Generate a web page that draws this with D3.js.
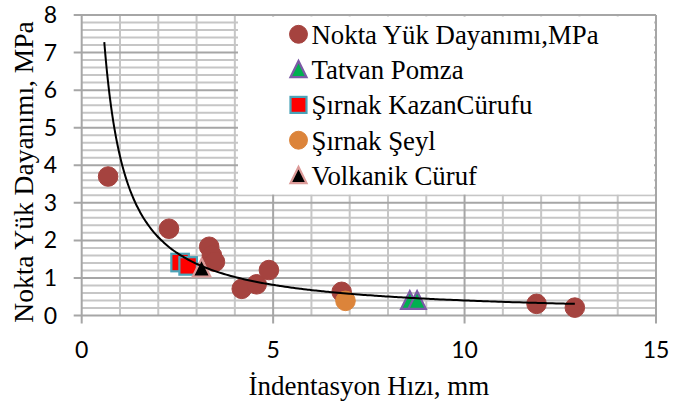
<!DOCTYPE html>
<html><head><meta charset="utf-8">
<script src="https://cdn.jsdelivr.net/npm/d3@7"></script>
<style>body{margin:0;background:#fff;overflow:hidden}</style>
</head><body><svg id="c" width="688" height="405"></svg>
<script>
// ---- data ----
const xTicks = [0, 5, 10, 15];
const yTicks = [0, 1, 2, 3, 4, 5, 6, 7, 8];
const noktaX = [0.69, 2.28, 3.33, 3.40, 3.48, 4.18, 4.57, 4.89, 6.79, 11.88, 12.88];
const noktaY = [3.70, 2.31, 1.83, 1.60, 1.43, 0.71, 0.83, 1.21, 0.63, 0.31, 0.21];
const tatvanX = [8.57, 8.76];
const tatvanY = [0.40, 0.40];
const kazanX = [2.57, 2.78];
const kazanY = [1.41, 1.32];
const seylX = [6.89];
const seylY = [0.39];
const volkX = [3.13];
const volkY = [1.26];
const trendCoef = [4.24, -1.024];   // power trendline y = a * x^b
const trendRange = [0.59, 12.88];
const seriesNames = ["Nokta Yük Dayanımı,MPa", "Tatvan Pomza", "Şırnak KazanCürufu", "Şırnak Şeyl", "Volkanik Cüruf"];
const xTitle = "İndentasyon Hızı, mm";
const yTitle = "Nokta Yük Dayanımı, MPa";

// ---- layout ----
const svg = d3.select("#c");
const x = d3.scaleLinear().domain([0, 15]).range([81.7, 656]);
const y = d3.scaleLinear().domain([0, 8]).range([315.5, 15]);
const serif = "'Liberation Serif','Times New Roman',serif";
const sans = "Lato,'Open Sans',sans-serif";

const styles = [
  {shape: "circle", fill: "#a5433f", stroke: "#a5433f"},
  {shape: "triangle", fill: "#00b050", stroke: "#7b5aa6"},
  {shape: "square", fill: "#ff0000", stroke: "#4aa3b8"},
  {shape: "circle", fill: "#dc843a", stroke: "#dc843a"},
  {shape: "triangle", fill: "#000000", stroke: "#dc9a98"}
];

const g = svg.append("g");

// grid: minor
const minorX = d3.range(0, 16).filter(v => v % 5 !== 0);
const minorY = d3.range(0, 40).map(v => v / 5).filter(v => Math.abs(v - Math.round(v)) > 1e-6);
g.selectAll(".mx").data(minorX).enter().append("line")
  .attr("x1", d => x(d)).attr("x2", d => x(d)).attr("y1", y(8)).attr("y2", y(0))
  .attr("stroke", "#c6c6c6").attr("stroke-width", 2);
g.selectAll(".my").data(minorY).enter().append("line")
  .attr("x1", x(0)).attr("x2", x(15)).attr("y1", d => y(d)).attr("y2", d => y(d))
  .attr("stroke", "#c6c6c6").attr("stroke-width", 2);
// grid: major
g.selectAll(".My").data(yTicks).enter().append("line")
  .attr("x1", x(0) - 8).attr("x2", x(15)).attr("y1", d => y(d)).attr("y2", d => y(d))
  .attr("stroke", "#a6a6a6").attr("stroke-width", 2);
g.selectAll(".Mx").data(xTicks).enter().append("line")
  .attr("x1", d => x(d)).attr("x2", d => x(d)).attr("y1", y(8)).attr("y2", y(0) + 8)
  .attr("stroke", "#a6a6a6").attr("stroke-width", 2);

// legend background (covers grid)
const lg = svg.append("g");
lg.append("rect").attr("x", 238).attr("y", 16.5).attr("width", 416).attr("height", 178).attr("fill", "#fff");

// tick labels
svg.selectAll(".yl").data(yTicks).enter().append("text")
  .attr("x", 57).attr("y", d => y(d) + 8).attr("text-anchor", "end")
  .attr("font-family", sans).attr("font-size", 23).attr("fill", "#000").text(d => d);
svg.selectAll(".xl").data(xTicks).enter().append("text")
  .attr("x", d => x(d)).attr("y", 358).attr("text-anchor", "middle")
  .attr("font-family", sans).attr("font-size", 23).attr("fill", "#000").text(d => d);

// titles
svg.append("text").attr("x", (x(0) + x(15)) / 2).attr("y", 395).attr("text-anchor", "middle")
  .attr("font-family", serif).attr("font-size", 27).text(xTitle);
svg.append("text").attr("transform", "translate(33,172) rotate(-90)").attr("text-anchor", "middle")
  .attr("font-family", serif).attr("font-size", 27.5).text(yTitle);

// marker drawing
function marker(sel, st, cx, cy, s) {
  if (st.shape === "circle") {
    sel.append("circle").attr("cx", cx).attr("cy", cy).attr("r", s * 0.56)
      .attr("fill", st.fill).attr("stroke", st.stroke).attr("stroke-width", 1);
  } else if (st.shape === "square") {
    sel.append("rect").attr("x", cx - s / 2).attr("y", cy - s / 2).attr("width", s).attr("height", s)
      .attr("fill", st.fill).attr("stroke", st.stroke).attr("stroke-width", 2.2);
  } else {
    const w = s, h = s * 0.95;
    const p = d3.path();
    p.moveTo(cx, cy - h / 2 - 1); p.lineTo(cx + w / 2, cy + h / 2); p.lineTo(cx - w / 2, cy + h / 2); p.closePath();
    sel.append("path").attr("d", p.toString()).attr("fill", st.fill).attr("stroke", st.stroke)
      .attr("stroke-width", 2.2).attr("stroke-linejoin", "miter");
  }
}

const seriesX = [noktaX, tatvanX, kazanX, seylX, volkX];
const seriesY = [noktaY, tatvanY, kazanY, seylY, volkY];
const mg = svg.append("g");
seriesX.forEach((xs, i) => {
  xs.forEach((xv, j) => marker(mg, styles[i], x(xv), y(seriesY[i][j]), 17.5));
});

// trendline
const tx = d3.range(0, 201).map(k => trendRange[0] + (trendRange[1] - trendRange[0]) * Math.pow(k / 200, 1.6));
const line = d3.line().x(d => x(d)).y(d => y(trendCoef[0] * Math.pow(d, trendCoef[1]))).curve(d3.curveMonotoneX);
svg.append("path").datum(tx).attr("d", line).attr("fill", "none").attr("stroke", "#000").attr("stroke-width", 2);

// legend entries
seriesNames.forEach((n, i) => {
  const cy = 34.3 + i * 35.3;
  marker(lg, styles[i], 298.5, cy, 16);
  lg.append("text").attr("x", 311.5).attr("y", cy + 9.5).attr("font-family", serif)
    .attr("font-size", 26.8).attr("fill", "#000").text(n);
});
</script></body></html>
